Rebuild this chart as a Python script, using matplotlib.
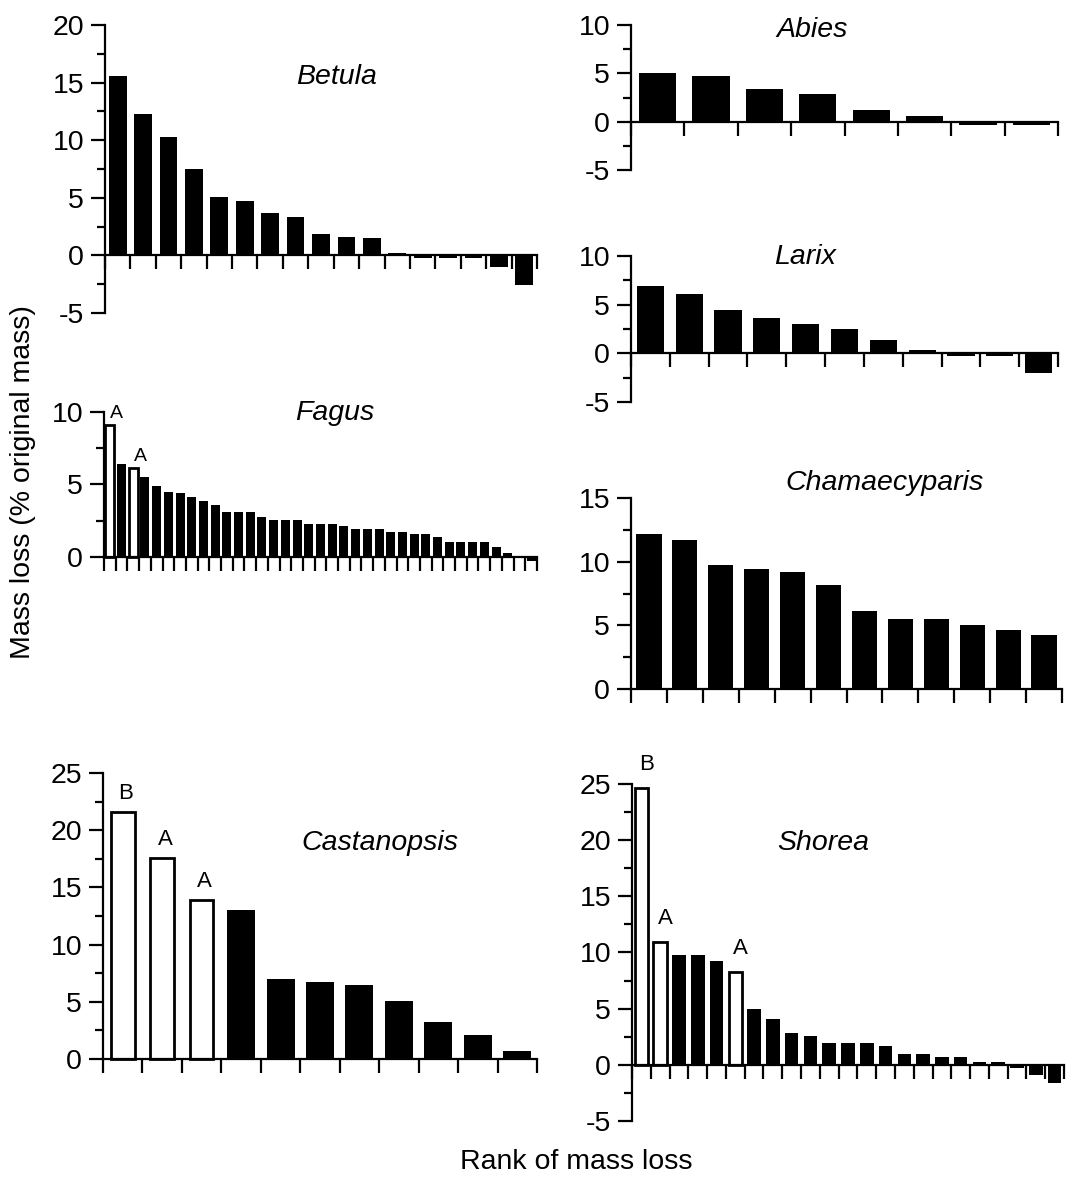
import matplotlib
matplotlib.use("Agg")
import matplotlib.pyplot as plt
from matplotlib.ticker import MultipleLocator
import numpy as np

FIG_W, FIG_H = 1068, 1180

# ranked mass loss (% original mass) per genus
betula = [15.6, 12.3, 10.3, 7.5, 5.1, 4.7, 3.7, 3.3, 1.9, 1.6, 1.5, 0.25,
          -0.2, -0.2, -0.2, -1.0, -2.6]
fagus = [9.1, 6.4, 6.15, 5.5, 4.9, 4.5, 4.4, 4.15, 3.85, 3.6, 3.1, 3.1, 3.1,
         2.75, 2.55, 2.55, 2.55, 2.3, 2.3, 2.3, 2.15, 1.95, 1.95, 1.95, 1.75,
         1.75, 1.6, 1.6, 1.4, 1.05, 1.05, 1.05, 1.05, 0.72, 0.3, 0.1, -0.3]
abies = [5.05, 4.7, 3.4, 2.85, 1.2, 0.6, -0.3, -0.3]
larix = [6.9, 6.1, 4.45, 3.6, 3.0, 2.5, 1.35, 0.35, -0.3, -0.3, -2.0]
chamaecyparis = [12.2, 11.7, 9.7, 9.45, 9.2, 8.2, 6.15, 5.5, 5.5, 5.05, 4.65, 4.25]
castanopsis = [21.6, 17.6, 13.9, 13.0, 7.0, 6.75, 6.45, 5.1, 3.25, 2.1, 0.7]
shorea = [24.6, 10.9, 9.75, 9.75, 9.25, 8.3, 4.95, 4.05, 2.8, 2.6, 1.9, 1.9,
          1.9, 1.65, 0.95, 0.95, 0.68, 0.68, 0.27, 0.27, -0.24, -0.92, -1.64]

# open (highlighted) bars and their letter labels
fagus_open = [0, 2]
fagus_letters = ["A", "A"]
castanopsis_open = [0, 1, 2]
castanopsis_letters = ["B", "A", "A"]
shorea_open = [0, 1, 5]
shorea_letters = ["B", "A", "A"]

TICK_SIZE = 20.5
TITLE_SIZE = 20.5


def px_box(left, right, top, bottom):
    return [left / FIG_W, 1 - bottom / FIG_H, (right - left) / FIG_W, (bottom - top) / FIG_H]


def draw_panel(fig, box, values, name, ylim, ystep, title_pos,
               open_idx=(), letters=(), bar_width=0.7, open_width=None,
               letter_size=16, letter_offset=(3, 9)):
    ax = fig.add_axes(px_box(*box))
    n = len(values)
    x = np.arange(n) + 0.5
    open_idx = list(open_idx)
    solid = [i for i in range(n) if i not in open_idx]

    ax.bar(x[solid], [values[i] for i in solid], width=bar_width,
           color="black", linewidth=0, clip_on=False, zorder=2)
    if open_idx:
        ax.bar(x[open_idx], [values[i] for i in open_idx],
               width=open_width or bar_width, facecolor="white",
               edgecolor="black", linewidth=2.0, clip_on=False, zorder=2)
        for i, letter in zip(open_idx, letters):
            ax.annotate(letter, (x[i], values[i]), xytext=letter_offset,
                        textcoords="offset points", ha="center", va="baseline",
                        fontsize=letter_size)

    ax.set_xlim(0, n)
    ax.set_ylim(*ylim)
    ax.set_xticks(np.arange(n + 1))
    ax.set_yticks(np.arange(ylim[0], ylim[1] + 0.1, ystep))
    ax.yaxis.set_minor_locator(MultipleLocator(ystep / 2))
    ax.tick_params(axis="x", length=10, width=1.6, labelbottom=False)
    ax.tick_params(axis="y", which="major", length=10, width=1.6,
                   labelsize=TICK_SIZE, pad=5)
    ax.tick_params(axis="y", which="minor", length=6, width=1.6)

    ax.spines["bottom"].set_position(("data", 0))
    ax.spines["top"].set_visible(False)
    ax.spines["right"].set_visible(False)
    for side in ("left", "bottom"):
        ax.spines[side].set_linewidth(1.6)
    ax.patch.set_visible(False)

    ax.text(title_pos[0], title_pos[1], name, transform=ax.transAxes,
            ha="center", va="center", style="italic", fontsize=TITLE_SIZE)
    return ax


def main() -> None:
    plt.rcParams["font.family"] = ["Liberation Sans", "DejaVu Sans"]
    plt.rcParams["axes.unicode_minus"] = False

    fig = plt.figure(figsize=(FIG_W / 100, FIG_H / 100), dpi=100)

    draw_panel(fig, (105, 537, 25, 313), betula, "Betula", (-5, 20), 5,
               (0.537, 0.819))
    draw_panel(fig, (104, 537, 412, 557), fagus, "Fagus", (0, 10), 5,
               (0.533, 0.993), fagus_open, fagus_letters, bar_width=0.77,
               letter_size=14, letter_offset=(5, 5))
    draw_panel(fig, (631, 1058, 25, 170), abies, "Abies", (-5, 10), 5,
               (0.423, 0.966))
    draw_panel(fig, (631, 1058, 256, 402), larix, "Larix", (-5, 10), 5,
               (0.408, 0.995))
    draw_panel(fig, (631, 1062, 498, 689), chamaecyparis, "Chamaecyparis",
               (0, 15), 5, (0.589, 1.079))
    draw_panel(fig, (103, 537, 773, 1059), castanopsis, "Castanopsis", (0, 25), 5,
               (0.638, 0.755), castanopsis_open, castanopsis_letters,
               bar_width=0.71, open_width=0.6, letter_offset=(2, 9))
    draw_panel(fig, (632, 1064, 784, 1121), shorea, "Shorea", (-5, 25), 5,
               (0.442, 0.825), shorea_open, shorea_letters, bar_width=0.72,
               letter_offset=(4, 13))

    fig.text(23 / FIG_W, 1 - 482 / FIG_H, "Mass loss (% original mass)",
             rotation=90, ha="center", va="center", fontsize=TICK_SIZE)
    fig.text(576 / FIG_W, 1 - 1162 / FIG_H, "Rank of mass loss",
             ha="center", va="center", fontsize=TICK_SIZE)

    fig.savefig("out.png", dpi=100)
    plt.close(fig)


if __name__ == "__main__":
    main()
